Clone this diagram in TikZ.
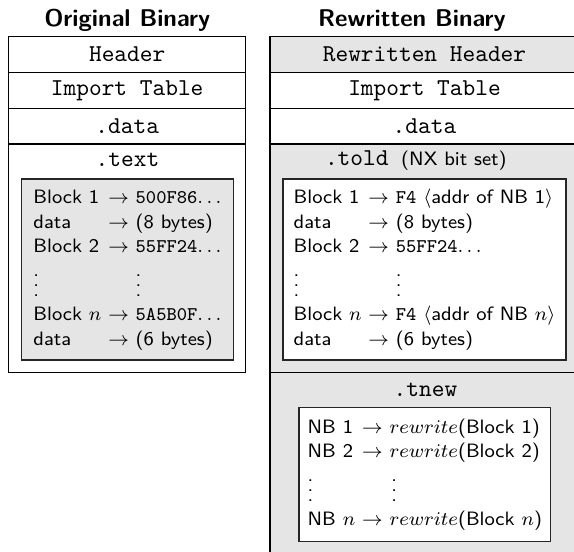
\documentclass[tikz,border=0pt]{standalone}
\usetikzlibrary{positioning}
\renewcommand{\arraystretch}{1.08}

\begin{document}
\begin{tikzpicture}[x=0.4132pt, y=-0.4132pt,
    every node/.style={inner sep=0pt, outer sep=0pt},
    section/.style={draw=black, line width=0.5pt, font=\ttfamily},
    shaded/.style={section, fill=black!10},
    blockbox/.style={draw=black!85, line width=0.5pt, anchor=north west, font=\footnotesize\sffamily},
    heading/.style={font=\sffamily\bfseries, anchor=base},
    seclabel/.style={font=\ttfamily, anchor=base}]

        % Page of the reference (pixels)
        \clip (0,0) rectangle (574,552);

        % One pixel of the reference
        \def\pxu{0.4132pt}

        % Height of the small sections
        \def\rowh{35.7}

        % Titles
        \node[heading] (titA) at (127.2,26.5) {Original Binary};
        \node[heading] (titB) at (412,26.5) {Rewritten Binary};

        % Original binary
        \node[section, anchor=north, minimum width=237*\pxu, minimum height=\rowh*\pxu] (hdrA) at (127.2,36.8) {Header};
        \node[section, minimum width=237*\pxu, minimum height=\rowh*\pxu, below=0pt of hdrA] (impA) {Import Table};
        \node[section, minimum width=237*\pxu, minimum height=\rowh*\pxu, below=0pt of impA] (dataA) {.data};
        \node[section, minimum width=237*\pxu, minimum height=228.3*\pxu, below=0pt of dataA] (textA) {};
        \node[seclabel] (textlbl) at (127.5,166.5) {.text};

        \node[blockbox, fill=black!10, minimum width=211.8*\pxu, minimum height=181*\pxu] (blkA) at (21.5,179) {%
          \begin{tabular}{@{}l@{ }l@{ }l@{}}
            Block 1 & $\rightarrow$ & \texttt{500F86}$\ldots$\\
            data & $\rightarrow$ & (8 bytes)\\
            Block 2 & $\rightarrow$ & \texttt{55FF24}$\ldots$\\
            \vdots & & \makebox[0pt][l]{\vdots}\\
            Block $n$ & $\rightarrow$ & \texttt{5A5B0F}$\ldots$\\
            data & $\rightarrow$ & (6 bytes)
          \end{tabular}};

        % Rewritten binary
        \node[shaded, anchor=north, minimum width=309*\pxu, minimum height=\rowh*\pxu] (hdrB) at (424.5,36.8) {Rewritten Header};
        \node[section, minimum width=309*\pxu, minimum height=\rowh*\pxu, below=0pt of hdrB] (impB) {Import Table};
        \node[section, minimum width=309*\pxu, minimum height=\rowh*\pxu, below=0pt of impB] (dataB) {.data};
        \node[shaded, minimum width=309*\pxu, minimum height=228.3*\pxu, below=0pt of dataB] (toldB) {};
        \node[shaded, minimum width=309*\pxu, minimum height=181.7*\pxu, below=0pt of toldB] (tnewB) {};
        \node[seclabel] (toldlbl) at (415.8,165.7) {.told {\sffamily\footnotesize (NX bit set)}};
        \node[seclabel] (tnewlbl) at (425.5,396.7) {.tnew};

        \node[blockbox, fill=white, minimum width=283*\pxu, minimum height=181*\pxu] (blkB) at (283,179) {%
          \begin{tabular}{@{}l@{ }l@{ }l@{}}
            Block 1 & $\rightarrow$ & \texttt{F4} $\langle$addr of NB 1$\rangle$\\
            data & $\rightarrow$ & (8 bytes)\\
            Block 2 & $\rightarrow$ & \texttt{55FF24}$\ldots$\\
            \vdots & & \makebox[0pt][l]{\vdots}\\
            Block $n$ & $\rightarrow$ & \texttt{F4} $\langle$addr of NB $n\rangle$\\
            data & $\rightarrow$ & (6 bytes)
          \end{tabular}};

        \node[blockbox, fill=white, minimum width=251.7*\pxu, minimum height=134.4*\pxu] (blkC) at (299,407.3) {%
          \begin{tabular}{@{}l@{ }l@{ }l@{}}
            NB 1 & $\rightarrow$ & $rewrite$(Block 1)\\
            NB 2 & $\rightarrow$ & $rewrite$(Block 2)\\
            \vdots & & \hspace{0.1em}\makebox[0pt][l]{\vdots}\\
            NB $n$ & $\rightarrow$ & $rewrite$(Block $n$)
          \end{tabular}};

      \end{tikzpicture}
\end{document}
